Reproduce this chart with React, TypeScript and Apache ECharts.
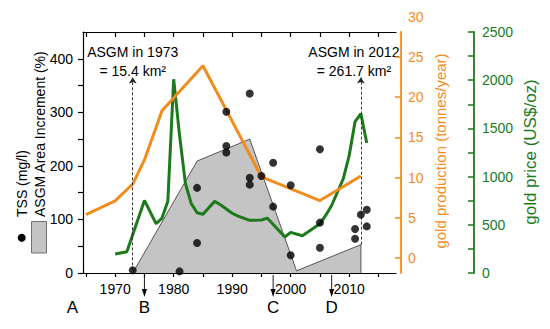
import React, { useEffect, useRef } from 'react';
import * as echarts from 'echarts';

// ---------- axes ----------
const xMin = 1964.5;
const xMax = 2018;
const xTickYears = [1965, 1970, 1975, 1980, 1985, 1990, 1995, 2000, 2005, 2010, 2015];
const xLabelYears = [1970, 1980, 1990, 2000, 2010];
const leftTicks = [0, 50, 100, 150, 200, 250, 300, 350, 400];
const leftLabels = [0, 100, 200, 300, 400];
const prodTicks = [0, 5, 10, 15, 20, 25];
const prodTopLabel = 30;
const priceTicks = [0, 250, 500, 750, 1000, 1250, 1500, 1750, 2000, 2250, 2500];
const priceLabels = [0, 500, 1000, 1500, 2000, 2500];

// ---------- data ----------
// ASGM area increment (%)
const areaYears = [1973, 1984, 1993, 2001, 2012, 2012];
const areaValues = [0, 209, 250, 4, 53, 0];

// TSS (mg/l)
const tssYears = [1973, 1981, 1984, 1984, 1989, 1989, 1989, 1993, 1993, 1993, 1995, 1997, 1997, 2000, 2000, 2005, 2005, 2005, 2011, 2011, 2012, 2013, 2013];
const tssValues = [5, 3, 56, 159, 301, 237, 225, 335, 178, 165, 181, 206, 124, 164, 33, 231, 94, 47, 82, 64, 109, 118, 87];

// gold production (tonnes/year)
const prodYears = [1965, 1970, 1973, 1975, 1978, 1985, 1995, 2005, 2012];
const prodValues = [5.4, 7.1, 9.2, 12.2, 18.3, 23.9, 10.1, 7.15, 10.2];

// gold price (US$/oz)
const priceYears = [1970, 1972, 1975, 1977, 1978, 1979, 1980, 1981, 1982, 1983, 1984, 1985, 1987, 1988, 1990, 1991, 1993, 1995, 1996, 1999, 2000, 2002, 2005, 2006, 2007, 2008, 2009, 2010, 2011, 2012, 2013];
const priceValues = [197, 221, 753, 511, 570, 745, 2010, 1430, 930, 720, 625, 610, 743, 708, 620, 590, 546, 550, 570, 373, 421, 387, 510, 600, 700, 840, 980, 1220, 1570, 1652, 1348];

// annotations
const noteYears = [1973, 2012];
const noteStart = [5, 53];
const noteTop = 365;
const noteLine1 = ['ASGM in 1973', 'ASGM in 2012'];
const noteLine2 = ['= 15.4 km\u00B2', '= 261.7 km\u00B2'];
const letterNames = ['A', 'B', 'C', 'D'];
const letterYears = [1962.7, 1975, 1997, 2007];
const letterArrow = [false, true, true, true];

const FONT = "'Liberation Sans', Arial, Helvetica, sans-serif";
const ORANGE = '#F28C1E';
const GREEN = '#1C7A1C';
const GRAY = '#C4C4C4';

const zip = (a: number[], b: number[]) => a.map((v, i) => [v, b[i]]);
const plain = (v: number) => String(v);

export default function App() {
  const ref = useRef<HTMLDivElement>(null);
  useEffect(() => {
    if (!ref.current) return;
    const chart = echarts.init(ref.current, undefined, { renderer: 'svg' });
    const option: any = {
      animation: false,
      backgroundColor: '#ffffff',
      textStyle: { fontFamily: FONT },
      grid: { left: 83, right: 154, top: 32, bottom: 56, containLabel: false },
      xAxis: [
        {
          type: 'value', position: 'bottom', min: xMin, max: xMax,
          axisLine: { show: true, onZero: false, lineStyle: { color: '#000', width: 1.2 } },
          axisTick: { show: true, inside: false, length: 4, customValues: xTickYears, lineStyle: { color: '#000', width: 1.2 } },
          axisLabel: { show: true, customValues: xLabelYears, formatter: plain, margin: 9, color: '#000', fontSize: 14, fontFamily: FONT },
          splitLine: { show: false },
        },
        {
          type: 'value', position: 'top', min: xMin, max: xMax,
          axisLine: { show: true, onZero: false, lineStyle: { color: '#000', width: 1.2 } },
          axisTick: { show: true, inside: true, length: 5, customValues: xTickYears, lineStyle: { color: '#000', width: 1.2 } },
          axisLabel: { show: false },
          splitLine: { show: false },
        },
      ],
      yAxis: [
        {
          type: 'value', position: 'left', min: 0, max: 450,
          axisLine: { show: true, onZero: false, lineStyle: { color: '#000', width: 1.2 } },
          axisTick: { show: true, inside: false, length: 5, customValues: leftTicks, lineStyle: { color: '#000', width: 1.2 } },
          axisLabel: { show: true, customValues: leftLabels, formatter: plain, margin: 10, color: '#000', fontSize: 14, fontFamily: FONT },
          splitLine: { show: false },
        },
        {
          type: 'value', position: 'right', offset: 5, min: -1.86, max: 28.1,
          axisLine: { show: true, onZero: false, lineStyle: { color: ORANGE, width: 1.8 } },
          axisTick: { show: true, inside: true, length: 6, customValues: prodTicks, lineStyle: { color: ORANGE, width: 1.5 } },
          axisLabel: { show: true, customValues: prodTicks, formatter: plain, margin: 7, color: ORANGE, fontSize: 14, fontFamily: FONT },
          splitLine: { show: false },
        },
        {
          type: 'value', position: 'right', offset: 78, min: 0, max: 2500,
          axisLine: { show: true, onZero: false, lineStyle: { color: GREEN, width: 1.8 } },
          axisTick: { show: true, inside: true, length: 6, customValues: priceTicks, lineStyle: { color: GREEN, width: 1.5 } },
          axisLabel: { show: true, customValues: priceLabels, formatter: plain, margin: 8, color: GREEN, fontSize: 14, fontFamily: FONT },
          splitLine: { show: false },
        },
      ],
      series: [
        {
          name: 'ASGM Area Increment (%)', type: 'line', xAxisIndex: 0, yAxisIndex: 0,
          data: zip(areaYears, areaValues), symbol: 'none', z: 1,
          lineStyle: { color: '#333', width: 0.8 },
          areaStyle: { color: GRAY, opacity: 1 },
          markLine: {
            silent: true, symbol: ['none', 'arrow'], symbolSize: 6,
            label: { show: false },
            lineStyle: { type: [3, 2], color: '#222', width: 0.9 },
            emphasis: { disabled: true },
            data: noteYears.map((y, i) => [{ coord: [y, noteStart[i]] }, { coord: [y, noteTop] }]),
          },
        },
        {
          name: 'gold price (US$/oz)', type: 'line', xAxisIndex: 0, yAxisIndex: 2,
          data: zip(priceYears, priceValues), symbol: 'none', z: 3,
          lineStyle: { color: GREEN, width: 3 },
        },
        {
          name: 'gold production (tonnes/year)', type: 'line', xAxisIndex: 0, yAxisIndex: 1,
          data: zip(prodYears, prodValues), symbol: 'none', z: 4,
          lineStyle: { color: ORANGE, width: 3 },
        },
        {
          name: 'TSS (mg/l)', type: 'scatter', xAxisIndex: 0, yAxisIndex: 0,
          data: zip(tssYears, tssValues), symbol: 'circle', symbolSize: 8, z: 5,
          itemStyle: { color: '#000' },
        },
      ],
    };
    chart.setOption(option);

    const px = (y: number) => chart.convertToPixel({ xAxisIndex: 0 }, y) as number;
    const py = (v: number) => chart.convertToPixel({ yAxisIndex: 1 }, v) as number;
    const g: any[] = [];
    // notes
    noteYears.forEach((yr, i) => {
      const cx = i === 0 ? px(yr) : px(yr) - 7;
      g.push({ type: 'text', x: cx, y: 52, style: { text: noteLine1[i], fontSize: 14, fontFamily: FONT, fill: '#000', textAlign: 'center', textVerticalAlign: 'middle' } });
      g.push({ type: 'text', x: cx, y: 71, style: { text: noteLine2[i], fontSize: 14, fontFamily: FONT, fill: '#000', textAlign: 'center', textVerticalAlign: 'middle' } });
    });
    // letters and arrows below axis
    letterNames.forEach((name, i) => {
      const x = px(letterYears[i]);
      g.push({ type: 'text', x, y: 307, style: { text: name, fontSize: 17, fontFamily: FONT, fill: '#000', textAlign: 'center', textVerticalAlign: 'middle' } });
      if (letterArrow[i]) {
        g.push({ type: 'line', shape: { x1: x, y1: 275, x2: x, y2: 291 }, style: { stroke: '#000', lineWidth: 0.9 } });
        g.push({ type: 'polygon', shape: { points: [[x - 2.5, 289], [x + 2.5, 289], [x, 297]] }, style: { fill: '#000' } });
      }
    });
    // orange top label
    g.push({ type: 'text', x: 408, y: py(prodTopLabel), style: { text: String(prodTopLabel), fontSize: 14, fontFamily: FONT, fill: ORANGE, textAlign: 'left', textVerticalAlign: 'middle' } });
    // left rotated legend / axis titles
    g.push({ type: 'text', x: 22, y: 217, rotation: Math.PI / 2, style: { text: 'TSS (mg/l)', fontSize: 14, fontFamily: FONT, fill: '#000', textAlign: 'left', textVerticalAlign: 'middle' } });
    g.push({ type: 'text', x: 40, y: 217, rotation: Math.PI / 2, style: { text: 'ASGM Area Increment (%)', fontSize: 14, fontFamily: FONT, fill: '#000', textAlign: 'left', textVerticalAlign: 'middle' } });
    g.push({ type: 'circle', shape: { cx: 21.7, cy: 237.7, r: 4 }, style: { fill: '#000' } });
    g.push({ type: 'rect', shape: { x: 31.5, y: 221.5, width: 15, height: 31.5 }, style: { fill: GRAY, stroke: '#555', lineWidth: 0.8 } });
    // right axis titles
    g.push({ type: 'text', x: 440, y: 151, rotation: Math.PI / 2, style: { text: 'gold production (tonnes/year)', fontSize: 15, fontFamily: FONT, fill: ORANGE, textAlign: 'center', textVerticalAlign: 'middle' } });
    g.push({ type: 'text', x: 530, y: 152, rotation: Math.PI / 2, style: { text: 'gold price (US$/oz)', fontSize: 17, fontFamily: FONT, fill: GREEN, textAlign: 'center', textVerticalAlign: 'middle' } });

    chart.setOption({ graphic: g });
    return () => chart.dispose();
  }, []);
  return <div ref={ref} style={{ position: 'absolute', left: 0, top: 0, width: 550, height: 329 }} />;
}
